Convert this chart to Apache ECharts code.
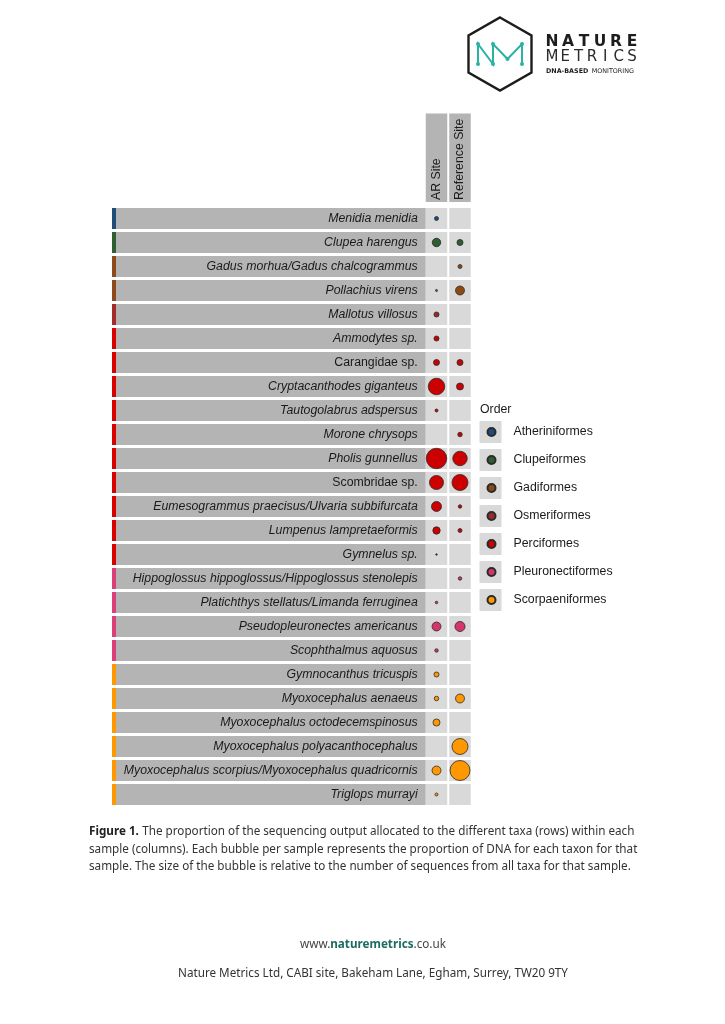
<!DOCTYPE html>
<html>
<head>
<meta charset="utf-8">
<script src="https://cdn.jsdelivr.net/npm/echarts@6/dist/echarts.min.js"></script>
<style>
html,body{margin:0;padding:0;background:#fff;}
#chart{width:725px;height:1024px;}
</style>
</head>
<body>
<div id="chart"></div>
<script>
// ---------------- data ----------------
const taxa = [
  'Menidia menidia','Clupea harengus','Gadus morhua/Gadus chalcogrammus','Pollachius virens',
  'Mallotus villosus','Ammodytes sp.','Carangidae sp.','Cryptacanthodes giganteus',
  'Tautogolabrus adspersus','Morone chrysops','Pholis gunnellus','Scombridae sp.',
  'Eumesogrammus praecisus/Ulvaria subbifurcata','Lumpenus lampretaeformis','Gymnelus sp.',
  'Hippoglossus hippoglossus/Hippoglossus stenolepis','Platichthys stellatus/Limanda ferruginea',
  'Pseudopleuronectes americanus','Scophthalmus aquosus','Gymnocanthus tricuspis',
  'Myoxocephalus aenaeus','Myoxocephalus octodecemspinosus','Myoxocephalus polyacanthocephalus',
  'Myoxocephalus scorpius/Myoxocephalus quadricornis','Triglops murrayi'
];
const taxonOrder = [
  'Atheriniformes','Clupeiformes','Gadiformes','Gadiformes','Osmeriformes',
  'Perciformes','Perciformes','Perciformes','Perciformes','Perciformes',
  'Perciformes','Perciformes','Perciformes','Perciformes','Perciformes',
  'Pleuronectiformes','Pleuronectiformes','Pleuronectiformes','Pleuronectiformes',
  'Scorpaeniformes','Scorpaeniformes','Scorpaeniformes','Scorpaeniformes','Scorpaeniformes','Scorpaeniformes'
];
const uprightTaxa = ['Carangidae sp.','Scombridae sp.'];
const samples = ['AR Site','Reference Site'];
const orders = ['Atheriniformes','Clupeiformes','Gadiformes','Osmeriformes','Perciformes','Pleuronectiformes','Scorpaeniformes'];
// relative proportion of DNA (bubble value), null = not detected
const arSite  = [3.8,17,null,1,6,6,8.6,65,2.1,null,100,47,24,13,0.5,null,1.5,19,2.9,6,4.8,11.7,null,19,2.1];
const refSite = [null,8.6,3.8,19,null,null,8.6,11.7,null,4.8,50,61,2.9,3.8,null,2.9,null,24,null,null,19,null,61,95,null];
const caption = [
  'The proportion of the sequencing output allocated to the different taxa (rows) within each',
  'sample (columns). Each bubble per sample represents the proportion of DNA for each taxon for that',
  'sample. The size of the bubble is relative to the number of sequences from all taxa for that sample.'
];

// ---------------- styles ----------------
const orderColors = {
  Atheriniformes:'#1c4d7d', Clupeiformes:'#2f5e31', Gadiformes:'#8c4a10', Osmeriformes:'#9c2a2a',
  Perciformes:'#cc0000', Pleuronectiformes:'#d6356c', Scorpaeniformes:'#ff9800'
};
const stripColors = {
  Atheriniformes:'#1f4e79', Clupeiformes:'#2f5e31', Gadiformes:'#8c4a1a', Osmeriformes:'#a52a2a',
  Perciformes:'#d90000', Pleuronectiformes:'#dc3f78', Scorpaeniformes:'#ff9800'
};
const LABEL_FONT = '"Liberation Sans", Arial, sans-serif';
const TEXT_FONT = '"Noto Sans", "Open Sans", sans-serif';
const LFS = 12.3;
const bandGray = '#b4b4b4', cellGray = '#d9d9d9';

function bubbleSize(v){ return Math.max(1.6, 2.05*Math.sqrt(v)); }

// ---------------- series ----------------
const scatterSeries = orders.map(o => {
  const data = [];
  taxa.forEach((t,i) => {
    if (taxonOrder[i] !== o) return;
    if (arSite[i] != null) data.push([0, i, arSite[i]]);
    if (refSite[i] != null) data.push([1, i, refSite[i]]);
  });
  return {
    name: o, type: 'scatter', z: 5, data,
    symbolSize: d => bubbleSize(d[2]),
    itemStyle: { color: orderColors[o], borderColor: '#2a2a2a', borderWidth: 0.8, opacity: 1 },
    emphasis: { disabled: true }
  };
});

const rowSeries = {
  type: 'custom', z: 1, silent: true, clip: false,
  data: taxa.map((t,i) => [0, i]),
  encode: { x: 0, y: 1 },
  renderItem: (params, api) => {
    const i = api.value(1);
    const p0 = api.coord([0, i]);
    const p1 = api.coord([1, i]);
    const rowH = api.size([0, 1])[1];
    const colW = p1[0] - p0[0];
    const h = rowH - 3;
    const y = p0[1] - h/2;
    const cellW = colW - 2;
    const labelRight = p0[0] - cellW/2;
    return { type: 'group', children: [
      { type:'rect', shape:{ x:112, y, width:4, height:h }, style:{ fill: stripColors[taxonOrder[i]] } },
      { type:'rect', shape:{ x:116, y, width: labelRight-116, height:h }, style:{ fill: bandGray } },
      { type:'rect', shape:{ x:p0[0]-cellW/2, y, width:cellW, height:h }, style:{ fill: cellGray } },
      { type:'rect', shape:{ x:p1[0]-cellW/2, y, width:cellW, height:h }, style:{ fill: cellGray } }
    ]};
  }
};

const headerSeries = {
  type: 'custom', z: 1, silent: true, clip: false,
  data: samples.map((s,j) => [j, 0]),
  encode: { x: 0, y: 1 },
  renderItem: (params, api) => {
    const j = api.value(0);
    const p = api.coord([j, 0]);
    const p1 = api.coord([1, 0]), p0 = api.coord([0, 0]);
    const colW = p1[0] - p0[0];
    const rowH = api.size([0, 1])[1];
    const bottom = p[1] - rowH/2 - 4.5;
    const top = 113.5;
    return { type:'rect', shape:{ x:p[0]-(colW-2)/2, y:top, width:colW-2, height:bottom-top }, style:{ fill: bandGray } };
  }
};

// ---------------- graphic (logo, caption, footer, legend keys) ----------------
const graphics = [];
orders.forEach((o,k) => {
  graphics.push({ type:'rect', z: 0, shape:{ x:479.5, y:421 + k*28, width:22, height:22 }, style:{ fill: cellGray } });
});
graphics.push({ type:'text', style:{ text:'Order', x:480, y:409.5, font:LFS + 'px ' + LABEL_FONT, fill:'#1a1a1a', textVerticalAlign:'middle' } });

// logo
graphics.push({ type:'polygon', shape:{ points:[[500,17.5],[531.5,35.5],[531.5,72.5],[500,90.5],[468.5,72.5],[468.5,35.5]] },
  style:{ fill:'none', stroke:'#1d1d1d', lineWidth:2.4 } });
const nm = [[478,64],[478,44],[493,64],[493,44],[507.5,59],[522,44],[522,64]];
graphics.push({ type:'polyline', shape:{ points: nm }, style:{ stroke:'#2ab3a4', lineWidth:2, fill:'none' } });
nm.forEach(p => graphics.push({ type:'circle', shape:{ cx:p[0], cy:p[1], r:2 }, style:{ fill:'#2ab3a4' } }));
const word1 = 'NATURE', word2 = 'METRICS';
for (let k=0;k<word1.length;k++) {
  graphics.push({ type:'text', style:{ text:word1[k], x:552 + k*(80/5), y:42, font:'bold 15.5px "DejaVu Sans", sans-serif',
    fill:'#1d1d1d', textAlign:'center', textVerticalAlign:'middle' } });
}
for (let k=0;k<word2.length;k++) {
  graphics.push({ type:'text', style:{ text:word2[k], x:552 + k*(80/6), y:57, font:'15px "DejaVu Sans", sans-serif',
    fill:'#2a2a2a', textAlign:'center', textVerticalAlign:'middle' } });
}
graphics.push({ type:'text', style:{ text:'{b|DNA-BASED} {n|MONITORING}', x:546, y:71, textVerticalAlign:'middle',
  rich:{ b:{ font:'bold 6.4px "DejaVu Sans", sans-serif', fill:'#1d1d1d' }, n:{ font:'6.4px "DejaVu Sans", sans-serif', fill:'#1d1d1d' } } } });

// caption
caption.forEach((line,k) => {
  const txt = k === 0 ? '{b|Figure 1.} {n|' + line + '}' : '{n|' + line + '}';
  graphics.push({ type:'text', style:{ text: txt, x:89, y:832 + k*17.5, textVerticalAlign:'middle',
    rich:{ b:{ font:'bold 11.7px ' + TEXT_FONT, fill:'#222' }, n:{ font:'11.7px ' + TEXT_FONT, fill:'#333' } } } });
});
// footer
graphics.push({ type:'text', style:{ text:'{n|www.}{t|naturemetrics}{n|.co.uk}', x:373, y:945, textAlign:'center', textVerticalAlign:'middle',
  rich:{ n:{ font:'11.7px ' + TEXT_FONT, fill:'#444' }, t:{ font:'bold 11.7px ' + TEXT_FONT, fill:'#1e6c61' } } } });
graphics.push({ type:'text', style:{ text:'Nature Metrics Ltd, CABI site, Bakeham Lane, Egham, Surrey, TW20 9TY', x:373, y:974,
  textAlign:'center', textVerticalAlign:'middle', font:'11.7px ' + TEXT_FONT, fill:'#333' } });

// ---------------- chart ----------------
const chart = echarts.init(document.getElementById('chart'), null, { renderer: 'canvas' });
chart.setOption({
  animation: false,
  backgroundColor: '#ffffff',
  grid: { left: 424.75, width: 47, top: 206.5, height: 600 },
  xAxis: {
    type: 'category', data: samples, position: 'top', boundaryGap: true, z: 10,
    axisLine: { show: false }, axisTick: { show: false }, splitLine: { show: false },
    axisLabel: { rotate: -90, margin: 6.5, fontSize: LFS, fontFamily: LABEL_FONT, color: '#1a1a1a' }
  },
  yAxis: {
    type: 'category', data: taxa, inverse: true, boundaryGap: true, z: 10,
    axisLine: { show: false }, axisTick: { show: false }, splitLine: { show: false },
    axisLabel: {
      margin: 7, fontSize: LFS, fontFamily: LABEL_FONT, color: '#1a1a1a',
      formatter: v => uprightTaxa.includes(v) ? '{u|' + v + '}' : '{i|' + v + '}',
      rich: {
        i: { fontStyle: 'italic', fontSize: LFS, fontFamily: LABEL_FONT, color: '#1a1a1a' },
        u: { fontStyle: 'normal', fontSize: LFS, fontFamily: LABEL_FONT, color: '#1a1a1a' }
      }
    }
  },
  legend: {
    data: orders, orient: 'vertical', left: 486.5, top: 425, padding: 0,
    itemWidth: 8, itemHeight: 14, itemGap: 14, icon: 'circle', selectedMode: false,
    textStyle: { fontSize: LFS, fontFamily: LABEL_FONT, color: '#1a1a1a', lineHeight: 14, padding: [0,0,0,13] }
  },
  graphic: graphics,
  series: [rowSeries, headerSeries].concat(scatterSeries)
});
</script>
</body>
</html>
